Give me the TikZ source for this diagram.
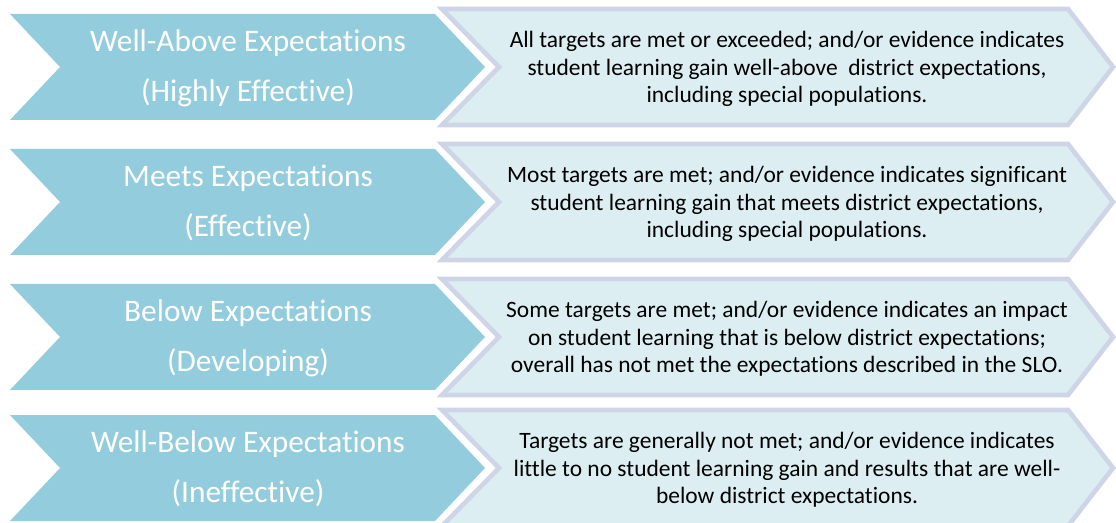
\documentclass[tikz,border=0pt]{standalone}
\usepackage{fontspec}
\setmainfont[Ligatures=NoCommon]{Carlito}
\definecolor{levelfill}{HTML}{93CDDD}
\definecolor{descfill}{HTML}{DDEEF3}
\definecolor{descrim}{HTML}{CDD5E6}
\tikzset{
  levelbox/.style={fill=levelfill},
  descbox/.style={fill=descfill, draw=descrim, line width=3.5pt, line join=miter},
  leveltext/.style={text=white, align=center, font=\fontsize{23.5}{37.5}\selectfont},
  desctext/.style={text=black, align=center, font=\fontsize{17.6}{20.6}\selectfont}
}
\begin{document}
\begin{tikzpicture}[x=0.75pt, y=-0.75pt]
\useasboundingbox (0,0) rectangle (1116,523);
% chevrons, one row per level
\foreach \y in {67,202,337,468}
{
    \fill[levelbox] (10,\y-53)--(435,\y-53)--(485,\y)--(435,\y+53)--(10,\y+53)--(60,\y)--cycle;
    \draw[descbox] (442,\y-58)--(1068,\y-58)--(1113,\y)--(1068,\y+58)--(442,\y+58)--(499,\y)--cycle;
}
\node[leveltext] (above) at (248,68) {Well-Above Expectations\\(Highly Effective)};
\node[leveltext] (meets) at (248,203) {Meets Expectations\\(Effective)};
\node[leveltext] (below) at (248,338) {Below Expectations\\(Developing)};
\node[leveltext] (wellbelow) at (248,469) {Well-Below Expectations\\(Ineffective)};

\node[desctext] (aboveD) at (787,69) {All targets are met or exceeded; and/or evidence indicates\\student learning gain well-above\ \ district expectations,\\including special populations.};
\node[desctext] (meetsD) at (787,204) {Most targets are met; and/or evidence indicates significant\\student learning gain that meets district expectations,\\including special populations.};
\node[desctext] (belowD) at (787,339) {Some targets are met; and/or evidence indicates an impact\\on student learning that is below district expectations;\\overall has not met the expectations described in the SLO.};
\node[desctext] (wellbelowD) at (787,470) {Targets are generally not met; and/or evidence indicates\\little to no student learning gain and results that are well-\\below district expectations.};
\end{tikzpicture}
\end{document}
